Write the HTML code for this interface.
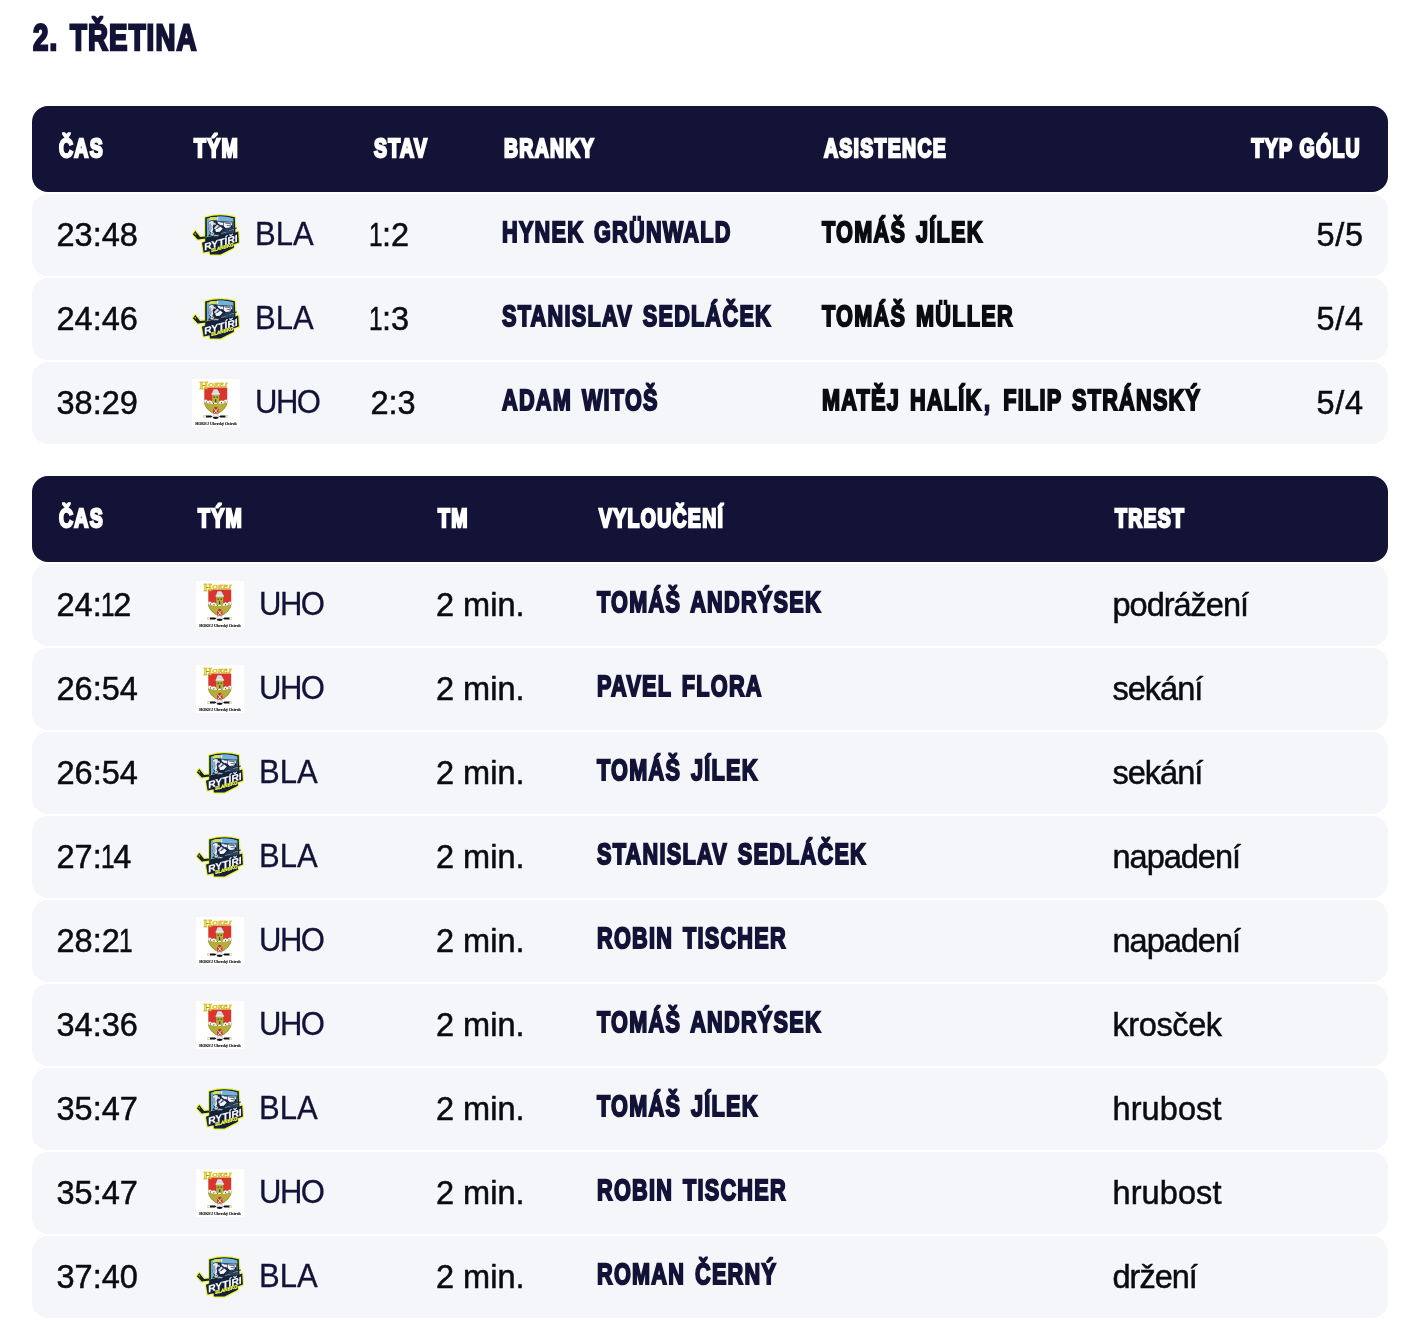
<!DOCTYPE html>
<html lang="cs">
<head>
<meta charset="utf-8">
<title>2. třetina</title>
<style>
html,body{margin:0;padding:0;background:#fff;}
body{width:1418px;height:1334px;overflow:hidden;position:relative;font-family:"Liberation Sans",Arial,sans-serif;color:#0b0b12;}
.wrap{position:absolute;left:32px;top:0;width:1356px;}
.cd{text-rendering:geometricPrecision;display:inline-block;white-space:nowrap;font-weight:700;transform-origin:0 50%;transform:scaleX(.74);-webkit-text-stroke:1.8px currentColor;letter-spacing:1.4px;}
.title{position:absolute;left:0;top:0;margin:0;height:76px;font-size:36.8px;line-height:75.5px;color:#131338;font-weight:700;}
.title .cd{position:absolute;left:1px;top:0;transform:scaleX(.75);-webkit-text-stroke-width:2.5px;letter-spacing:1.5px;word-spacing:4px;}
.tbl{position:absolute;left:0;width:1356px;}
.goals{top:106px;}
.pens{top:476px;}
.thead{position:relative;height:86px;border-radius:16px;background:#131338;color:#fff;margin-bottom:2px;}
.th{position:absolute;top:-.8px;padding-left:2.2px;height:86px;line-height:86px;font-size:26.3px;}
.th .cd{-webkit-text-stroke-width:2.4px;letter-spacing:1.75px;}
.tr{position:relative;height:82px;border-radius:16px;background:#f5f6fa;margin-bottom:2px;}
.td{position:absolute;top:0;height:82px;line-height:82.5px;font-size:32.5px;white-space:nowrap;-webkit-text-stroke:.5px currentColor;}
.n1{display:inline-block;width:12.7px;margin-left:-1.2px;transform:scaleX(.75);transform-origin:0 50%;}
.logo{position:absolute;left:0;top:17px;display:block;}
.abbr{position:absolute;left:63px;top:-1px;color:#131338;font-size:33px;-webkit-text-stroke-width:.3px;display:inline-block;transform-origin:0 50%;transform:scaleX(.94);}
.nm{font-size:29.5px;color:#131338;-webkit-text-stroke-width:2px;letter-spacing:1.7px;word-spacing:3.5px;position:relative;top:-3.9px;left:0;transform:scaleX(.735);}
.as{color:#0b0b12;}
.sep{font-style:normal;color:#131338;margin:0 3px 0 2px;}
.c-time{left:24.5px;}
.goals .c-team{left:160px;}
.goals .c-state{left:339.5px;}
.goals .td.c-state{left:338.5px;}
.goals .c-name{left:470px;}
.goals .c-assist{left:790px;}
.goals .c-type{right:27px;text-align:right;}
.goals .td.c-type{right:24.3px;letter-spacing:.7px;}
.goals .th.c-type .cd{transform-origin:100% 50%;}
.pens .c-team{left:164px;}
.pens .c-tm{left:404px;}
.pens .c-name{left:565px;}
.pens .c-pen{left:1080.5px;}
.abbr.uho{letter-spacing:-1.6px;}
.c-pen{letter-spacing:-1px;}
.c-pen.w{letter-spacing:-.4px;}
.c-pen.w2{letter-spacing:.1px;}
</style>
</head>
<body>
<main class="wrap">
<h2 class="title"><span class="cd">2. TŘETINA</span></h2>
<section class="tbl goals">
 <div class="thead">
  <div class="th c-time"><span class="cd">ČAS</span></div>
  <div class="th c-team"><span class="cd">TÝM</span></div>
  <div class="th c-state"><span class="cd">STAV</span></div>
  <div class="th c-name"><span class="cd">BRANKY</span></div>
  <div class="th c-assist"><span class="cd">ASISTENCE</span></div>
  <div class="th c-type"><span class="cd">TYP GÓLU</span></div>
 </div>
 <div class="tr">
  <div class="td c-time">23:48</div>
  <div class="td c-team"><svg class="logo" width="48" height="48" viewBox="0 0 48 48" role="img" aria-label="Rytíři Slansko">
    <!-- yellow glow outline -->
    <g fill="#f0f23c" stroke="#f0f23c" stroke-width="2.4" stroke-linejoin="round" stroke-linecap="round">
     <path d="M13.2 6.4 Q28 2.2 42.8 6.2 L43.4 21.4 L46.2 20.6 L46.9 31.6 L42 33.2 L41.8 36.8 L28.5 43.6 L18 43.4 L17.6 40.2 L11.6 41.6 L10 31.8 L13.2 30.4 Z"/>
     <path d="M0.9 23.3 L3.3 20 L8.1 25.9 L13.6 25.4 L13.6 27.6 L5.8 28.6 Z"/>
    </g>
    <!-- shield body -->
    <path d="M13.2 6.4 Q28 2.2 42.8 6.2 L43.4 21.4 L46.2 20.6 L46.9 31.6 L42 33.2 L41.8 36.8 L28.5 43.6 L18 43.4 L17.6 40.2 L11.6 41.6 L10 31.8 L13.2 30.4 Z" fill="#13213d"/>
    <!-- sky -->
    <path d="M14.8 7.6 Q28 3.4 41.2 7.4 L41.6 22 L30 25 L15 26 Z" fill="#6aaedb"/>
    <path d="M25.6 5.8 Q34 4.8 41.2 7.4 L41.4 10.4 L25 10 Z" fill="#72b3dc"/>
    <path d="M24.6 6.2 L26.4 5.6 L25.8 9.6 L24.8 9.8Z" fill="#d7ecf5"/>
    <!-- plume -->
    <ellipse cx="20.8" cy="7.9" rx="4.2" ry="1.8" transform="rotate(-8 20.8 7.9)" fill="#d3df52"/>
    <!-- knight: dark silhouette -->
    <path d="M16.5 11.4 L18 9.8 L21 9.2 L24.6 9.6 L27.4 10.2 L40.3 10 L41 17 L41.4 22.2 L30 25.4 L16 26.6 L16.2 25 L18.2 22.6 L16.6 18 Z" fill="#15233f"/>
    <!-- helmet -->
    <path d="M16.7 11.6 L19 10 L21.6 10.3 L22 13 L20.6 15.6 L21.2 19 L19.7 22.2 L17.4 19.8 L16.6 16 Z" fill="#e6eaf0"/>
    <path d="M17 13 L19 12 L19.6 17.4 L18.6 20.4 L17.5 19.2 L16.9 16Z" fill="#98a4ba"/>
    <path d="M22 12.3 L23.2 11.6 L23.9 13.4 L22.7 14.2Z" fill="#eef2f6"/>
    <!-- upper plates -->
    <path d="M27.9 10.9 L39.5 10.6 L40 13.2 L38 16.6 L33.8 16.9 L31 14.7 L27.7 12.1Z" fill="#f3f5f8"/>
    <path d="M28 11.3 H39.6 V11.75 H28Z M31.1 10.7 H31.75 V16.4 H31.1Z M33.2 12.4 L38.8 12 L38.9 12.7 L33.4 13.1Z M34.6 14.4 L38.6 13.8 L38.4 14.6 L34.8 15.1Z" fill="#1b2945"/>
    <path d="M38.2 10.8 L39.6 10.8 L38.4 16.4 L37.2 16.4Z" fill="#8f9bb2"/>
    <path d="M25.2 10.6 L27.4 10.8 L30.2 13.6 L29 14.6 L26 12.4Z" fill="#e9edf2"/>
    <!-- diagonal arm -->
    <path d="M25.3 13.4 L27 15 L23 18.7 L22 17.1Z" fill="#d8dfe8"/>
    <path d="M23.2 19.1 L27.7 15.1 L30.7 17.4 L27.8 20.8 L24 21.1Z" fill="#f6f8fa"/>
    <path d="M18.7 21.8 L21 20.8 L22.4 23 L20.2 24.8 L18.4 24Z" fill="#cdd5e0"/>
    <path d="M19.4 22.4 L21.4 21.6 L21.7 22.1 L19.7 23Z M25 17.6 L28.6 14.6 L29 15 L25.4 18.1Z" fill="#1b2945"/>
    <!-- bluish shadow, right -->
    <path d="M33.4 17.6 L41 16.8 L41.4 22 L33 23Z" fill="#274569"/>
    <path d="M30.5 18.6 L33.6 17.4 L33 23 L28 23.6Z" fill="#1e3354"/>
    <!-- small highlights below -->
    <path d="M21.6 24.6 L26.6 23.8 L26.8 24.6 L21.8 25.4Z M22.6 26.2 L26 25.6 L26.2 26.3 L22.8 26.9Z" fill="#c9d6e4"/>
    <!-- stick -->
    <path d="M0.9 23.3 L3.3 20 L8.1 25.9 L13.6 25.4 L13.6 27.6 L5.8 28.6 Z" fill="#13213d"/>
    <path d="M2.3 22.4 L3 21.6 L4.4 23.2 L3.7 24Z" fill="#f0f23c" opacity=".7"/>
    <path d="M13.4 25.9 L24 23.4 L24.2 24 L13.6 26.6Z M29 22.2 L34 21 L34.2 21.6 L29.2 22.8Z" fill="#b9c441"/>
    <path d="M36 18.4 L44.6 16.4 L44.9 17.4 L36.3 19.4Z" fill="#1b2945"/>
    <path d="M37 19.2 L42 18 L42.1 18.5 L37.2 19.7Z" fill="#b9c441"/>
    <!-- dark mass under the knight -->
    <path d="M14.8 26.6 L24 25.8 L30 25 L42.8 21.6 L43 25 L15 33 Z" fill="#13213d"/>
    <!-- wordmark -->
    <g transform="skewY(-15.3)" font-family="'Liberation Sans',Arial,sans-serif" font-weight="700">
     <text x="12.3" y="42.9" font-size="10" fill="#fff" stroke="#fff" stroke-width=".15" textLength="33.4" lengthAdjust="spacingAndGlyphs">RYTÍŘI</text>
     <text x="19.2" y="46.3" font-size="4.6" fill="#ecef3e" stroke="#ecef3e" stroke-width=".4" textLength="22.4" lengthAdjust="spacingAndGlyphs">SLANSKO</text>
    </g>
   </svg><span class="abbr bla">BLA</span></div>
  <div class="td c-state"><span class="n1">1</span>:2</div>
  <div class="td c-name"><span class="cd nm">HYNEK GRÜNWALD</span></div>
  <div class="td c-assist"><span class="cd nm as">TOMÁŠ JÍLEK</span></div>
  <div class="td c-type">5/5</div>
 </div>
 <div class="tr">
  <div class="td c-time">24:46</div>
  <div class="td c-team"><svg class="logo" width="48" height="48" viewBox="0 0 48 48" role="img" aria-label="Rytíři Slansko">
    <!-- yellow glow outline -->
    <g fill="#f0f23c" stroke="#f0f23c" stroke-width="2.4" stroke-linejoin="round" stroke-linecap="round">
     <path d="M13.2 6.4 Q28 2.2 42.8 6.2 L43.4 21.4 L46.2 20.6 L46.9 31.6 L42 33.2 L41.8 36.8 L28.5 43.6 L18 43.4 L17.6 40.2 L11.6 41.6 L10 31.8 L13.2 30.4 Z"/>
     <path d="M0.9 23.3 L3.3 20 L8.1 25.9 L13.6 25.4 L13.6 27.6 L5.8 28.6 Z"/>
    </g>
    <!-- shield body -->
    <path d="M13.2 6.4 Q28 2.2 42.8 6.2 L43.4 21.4 L46.2 20.6 L46.9 31.6 L42 33.2 L41.8 36.8 L28.5 43.6 L18 43.4 L17.6 40.2 L11.6 41.6 L10 31.8 L13.2 30.4 Z" fill="#13213d"/>
    <!-- sky -->
    <path d="M14.8 7.6 Q28 3.4 41.2 7.4 L41.6 22 L30 25 L15 26 Z" fill="#6aaedb"/>
    <path d="M25.6 5.8 Q34 4.8 41.2 7.4 L41.4 10.4 L25 10 Z" fill="#72b3dc"/>
    <path d="M24.6 6.2 L26.4 5.6 L25.8 9.6 L24.8 9.8Z" fill="#d7ecf5"/>
    <!-- plume -->
    <ellipse cx="20.8" cy="7.9" rx="4.2" ry="1.8" transform="rotate(-8 20.8 7.9)" fill="#d3df52"/>
    <!-- knight: dark silhouette -->
    <path d="M16.5 11.4 L18 9.8 L21 9.2 L24.6 9.6 L27.4 10.2 L40.3 10 L41 17 L41.4 22.2 L30 25.4 L16 26.6 L16.2 25 L18.2 22.6 L16.6 18 Z" fill="#15233f"/>
    <!-- helmet -->
    <path d="M16.7 11.6 L19 10 L21.6 10.3 L22 13 L20.6 15.6 L21.2 19 L19.7 22.2 L17.4 19.8 L16.6 16 Z" fill="#e6eaf0"/>
    <path d="M17 13 L19 12 L19.6 17.4 L18.6 20.4 L17.5 19.2 L16.9 16Z" fill="#98a4ba"/>
    <path d="M22 12.3 L23.2 11.6 L23.9 13.4 L22.7 14.2Z" fill="#eef2f6"/>
    <!-- upper plates -->
    <path d="M27.9 10.9 L39.5 10.6 L40 13.2 L38 16.6 L33.8 16.9 L31 14.7 L27.7 12.1Z" fill="#f3f5f8"/>
    <path d="M28 11.3 H39.6 V11.75 H28Z M31.1 10.7 H31.75 V16.4 H31.1Z M33.2 12.4 L38.8 12 L38.9 12.7 L33.4 13.1Z M34.6 14.4 L38.6 13.8 L38.4 14.6 L34.8 15.1Z" fill="#1b2945"/>
    <path d="M38.2 10.8 L39.6 10.8 L38.4 16.4 L37.2 16.4Z" fill="#8f9bb2"/>
    <path d="M25.2 10.6 L27.4 10.8 L30.2 13.6 L29 14.6 L26 12.4Z" fill="#e9edf2"/>
    <!-- diagonal arm -->
    <path d="M25.3 13.4 L27 15 L23 18.7 L22 17.1Z" fill="#d8dfe8"/>
    <path d="M23.2 19.1 L27.7 15.1 L30.7 17.4 L27.8 20.8 L24 21.1Z" fill="#f6f8fa"/>
    <path d="M18.7 21.8 L21 20.8 L22.4 23 L20.2 24.8 L18.4 24Z" fill="#cdd5e0"/>
    <path d="M19.4 22.4 L21.4 21.6 L21.7 22.1 L19.7 23Z M25 17.6 L28.6 14.6 L29 15 L25.4 18.1Z" fill="#1b2945"/>
    <!-- bluish shadow, right -->
    <path d="M33.4 17.6 L41 16.8 L41.4 22 L33 23Z" fill="#274569"/>
    <path d="M30.5 18.6 L33.6 17.4 L33 23 L28 23.6Z" fill="#1e3354"/>
    <!-- small highlights below -->
    <path d="M21.6 24.6 L26.6 23.8 L26.8 24.6 L21.8 25.4Z M22.6 26.2 L26 25.6 L26.2 26.3 L22.8 26.9Z" fill="#c9d6e4"/>
    <!-- stick -->
    <path d="M0.9 23.3 L3.3 20 L8.1 25.9 L13.6 25.4 L13.6 27.6 L5.8 28.6 Z" fill="#13213d"/>
    <path d="M2.3 22.4 L3 21.6 L4.4 23.2 L3.7 24Z" fill="#f0f23c" opacity=".7"/>
    <path d="M13.4 25.9 L24 23.4 L24.2 24 L13.6 26.6Z M29 22.2 L34 21 L34.2 21.6 L29.2 22.8Z" fill="#b9c441"/>
    <path d="M36 18.4 L44.6 16.4 L44.9 17.4 L36.3 19.4Z" fill="#1b2945"/>
    <path d="M37 19.2 L42 18 L42.1 18.5 L37.2 19.7Z" fill="#b9c441"/>
    <!-- dark mass under the knight -->
    <path d="M14.8 26.6 L24 25.8 L30 25 L42.8 21.6 L43 25 L15 33 Z" fill="#13213d"/>
    <!-- wordmark -->
    <g transform="skewY(-15.3)" font-family="'Liberation Sans',Arial,sans-serif" font-weight="700">
     <text x="12.3" y="42.9" font-size="10" fill="#fff" stroke="#fff" stroke-width=".15" textLength="33.4" lengthAdjust="spacingAndGlyphs">RYTÍŘI</text>
     <text x="19.2" y="46.3" font-size="4.6" fill="#ecef3e" stroke="#ecef3e" stroke-width=".4" textLength="22.4" lengthAdjust="spacingAndGlyphs">SLANSKO</text>
    </g>
   </svg><span class="abbr bla">BLA</span></div>
  <div class="td c-state"><span class="n1">1</span>:3</div>
  <div class="td c-name"><span class="cd nm">STANISLAV SEDLÁČEK</span></div>
  <div class="td c-assist"><span class="cd nm as">TOMÁŠ MÜLLER</span></div>
  <div class="td c-type">5/4</div>
 </div>
 <div class="tr">
  <div class="td c-time">38:29</div>
  <div class="td c-team"><svg class="logo" width="48" height="48" viewBox="0 0 48 48" role="img" aria-label="HOKEJ Uherský Ostroh">
    <rect x="0" y="0" width="48" height="48" fill="#fff"/>
    <!-- shield -->
    <path d="M12.3 8.6 H35.2 V23 Q35 30 23.7 35.8 Q12.4 30 12.3 23 Z" fill="#d8362a"/>
    <path d="M12.3 22.4 H35.2 V23 Q35 30 23.7 35.8 Q12.4 30 12.3 23 Z" fill="#b5ae3a" stroke="#7d7a24" stroke-width=".45"/>
    <!-- wall -->
    <path d="M12.3 21 L14.2 20.4 L16 22 L18 21.2 L20 22.6 H27.4 L29.4 21.2 L31.4 22 L33.2 20.4 L35.2 21 V23.4 Q23.7 26.6 12.3 23.4Z" fill="#f6f5ee"/>
    <path d="M14 22.6h1v1h-1z M17.4 23.2h1v1h-1z M21 23.8h1v1h-1z M25.4 23.8h1v1h-1z M29 23.2h1v1h-1z M32.4 22.6h1v1h-1z" fill="#3a3a2a"/>
    <!-- tower -->
    <path d="M20.2 15.4 H27.2 V24 H20.2Z" fill="#aeb23e"/>
    <path d="M21.6 10.2 H25.8 L27.9 15.6 H19.5Z" fill="#d9dbe0"/>
    <path d="M19.5 15.6 H27.9 V14.6 H19.9Z" fill="#f4f4f4"/>
    <path d="M21.6 17.6h1.2v1.2h-1.2z M24.6 17.6h1.2v1.2h-1.2z M23.2 20.2h1v2.8h-1z" fill="#2a2a1e"/>
    <path d="M26.2 9.6 L26.6 12 L25.6 10.4Z" fill="#2a2a1e"/>
    <!-- door -->
    <path d="M21.2 34 V29.6 Q23.8 25.8 26.4 29.6 V34 L23.8 35.6Z" fill="#c4342a"/>
    <path d="M21.8 29.4 L25.8 34.4 M25.8 29.4 L21.8 34.4" stroke="#f7f2e6" stroke-width=".9" fill="none"/>
    <!-- sticks + puck -->
    <path d="M11.6 36.4 H19 L20.4 37.4 L19 38.6 H11.6Z M35.8 36.4 H28.4 L27 37.4 L28.4 38.6 H35.8Z" fill="#111"/>
    <path d="M11.4 36.2 H14 V38.8 H11.4Z M33.4 36.2 H36 V38.8 H33.4Z" fill="#f3f3c8"/>
    <path d="M20.6 38 Q20.8 34.6 23.7 34.6 Q26.6 34.6 26.8 38Z" fill="#f1f1f1" stroke="#777" stroke-width=".3"/>
    <ellipse cx="23.7" cy="38.8" rx="3" ry="1.1" fill="#111"/>
    <!-- lettering -->
    <text font-family="'Liberation Serif','Times New Roman',serif" font-weight="700" fill="#f5e521"><tspan x="7.6" y="9.6" font-size="9.8" stroke="#b8930f" stroke-width=".35" textLength="8.6" lengthAdjust="spacingAndGlyphs">H</tspan><tspan x="16.2" y="8" font-style="italic" font-size="5.4" stroke="#c9a514" stroke-width=".3" textLength="19.4" lengthAdjust="spacingAndGlyphs">OKEJ</tspan></text>
    <text x="24" y="45.7" text-anchor="middle" font-family="'Liberation Serif','Times New Roman',serif" font-weight="700" font-size="3.3" fill="#1a1a1a" stroke="#1a1a1a" stroke-width=".12" textLength="41.6" lengthAdjust="spacingAndGlyphs">HOKEJ Uherský Ostroh</text>
   </svg><span class="abbr uho">UHO</span></div>
  <div class="td c-state">2:3</div>
  <div class="td c-name"><span class="cd nm">ADAM WITOŠ</span></div>
  <div class="td c-assist"><span class="cd nm as">MATĚJ HALÍK<i class="sep">, </i>FILIP STRÁNSKÝ</span></div>
  <div class="td c-type">5/4</div>
 </div>
</section>
<section class="tbl pens">
 <div class="thead">
  <div class="th c-time"><span class="cd">ČAS</span></div>
  <div class="th c-team"><span class="cd">TÝM</span></div>
  <div class="th c-tm"><span class="cd">TM</span></div>
  <div class="th c-name"><span class="cd">VYLOUČENÍ</span></div>
  <div class="th c-pen"><span class="cd">TREST</span></div>
 </div>
 <div class="tr">
  <div class="td c-time">24:<span class="n1">1</span>2</div>
  <div class="td c-team"><svg class="logo" width="48" height="48" viewBox="0 0 48 48" role="img" aria-label="HOKEJ Uherský Ostroh">
    <rect x="0" y="0" width="48" height="48" fill="#fff"/>
    <!-- shield -->
    <path d="M12.3 8.6 H35.2 V23 Q35 30 23.7 35.8 Q12.4 30 12.3 23 Z" fill="#d8362a"/>
    <path d="M12.3 22.4 H35.2 V23 Q35 30 23.7 35.8 Q12.4 30 12.3 23 Z" fill="#b5ae3a" stroke="#7d7a24" stroke-width=".45"/>
    <!-- wall -->
    <path d="M12.3 21 L14.2 20.4 L16 22 L18 21.2 L20 22.6 H27.4 L29.4 21.2 L31.4 22 L33.2 20.4 L35.2 21 V23.4 Q23.7 26.6 12.3 23.4Z" fill="#f6f5ee"/>
    <path d="M14 22.6h1v1h-1z M17.4 23.2h1v1h-1z M21 23.8h1v1h-1z M25.4 23.8h1v1h-1z M29 23.2h1v1h-1z M32.4 22.6h1v1h-1z" fill="#3a3a2a"/>
    <!-- tower -->
    <path d="M20.2 15.4 H27.2 V24 H20.2Z" fill="#aeb23e"/>
    <path d="M21.6 10.2 H25.8 L27.9 15.6 H19.5Z" fill="#d9dbe0"/>
    <path d="M19.5 15.6 H27.9 V14.6 H19.9Z" fill="#f4f4f4"/>
    <path d="M21.6 17.6h1.2v1.2h-1.2z M24.6 17.6h1.2v1.2h-1.2z M23.2 20.2h1v2.8h-1z" fill="#2a2a1e"/>
    <path d="M26.2 9.6 L26.6 12 L25.6 10.4Z" fill="#2a2a1e"/>
    <!-- door -->
    <path d="M21.2 34 V29.6 Q23.8 25.8 26.4 29.6 V34 L23.8 35.6Z" fill="#c4342a"/>
    <path d="M21.8 29.4 L25.8 34.4 M25.8 29.4 L21.8 34.4" stroke="#f7f2e6" stroke-width=".9" fill="none"/>
    <!-- sticks + puck -->
    <path d="M11.6 36.4 H19 L20.4 37.4 L19 38.6 H11.6Z M35.8 36.4 H28.4 L27 37.4 L28.4 38.6 H35.8Z" fill="#111"/>
    <path d="M11.4 36.2 H14 V38.8 H11.4Z M33.4 36.2 H36 V38.8 H33.4Z" fill="#f3f3c8"/>
    <path d="M20.6 38 Q20.8 34.6 23.7 34.6 Q26.6 34.6 26.8 38Z" fill="#f1f1f1" stroke="#777" stroke-width=".3"/>
    <ellipse cx="23.7" cy="38.8" rx="3" ry="1.1" fill="#111"/>
    <!-- lettering -->
    <text font-family="'Liberation Serif','Times New Roman',serif" font-weight="700" fill="#f5e521"><tspan x="7.6" y="9.6" font-size="9.8" stroke="#b8930f" stroke-width=".35" textLength="8.6" lengthAdjust="spacingAndGlyphs">H</tspan><tspan x="16.2" y="8" font-style="italic" font-size="5.4" stroke="#c9a514" stroke-width=".3" textLength="19.4" lengthAdjust="spacingAndGlyphs">OKEJ</tspan></text>
    <text x="24" y="45.7" text-anchor="middle" font-family="'Liberation Serif','Times New Roman',serif" font-weight="700" font-size="3.3" fill="#1a1a1a" stroke="#1a1a1a" stroke-width=".12" textLength="41.6" lengthAdjust="spacingAndGlyphs">HOKEJ Uherský Ostroh</text>
   </svg><span class="abbr uho">UHO</span></div>
  <div class="td c-tm">2 min.</div>
  <div class="td c-name"><span class="cd nm">TOMÁŠ ANDRÝSEK</span></div>
  <div class="td c-pen">podrážení</div>
 </div>
 <div class="tr">
  <div class="td c-time">26:54</div>
  <div class="td c-team"><svg class="logo" width="48" height="48" viewBox="0 0 48 48" role="img" aria-label="HOKEJ Uherský Ostroh">
    <rect x="0" y="0" width="48" height="48" fill="#fff"/>
    <!-- shield -->
    <path d="M12.3 8.6 H35.2 V23 Q35 30 23.7 35.8 Q12.4 30 12.3 23 Z" fill="#d8362a"/>
    <path d="M12.3 22.4 H35.2 V23 Q35 30 23.7 35.8 Q12.4 30 12.3 23 Z" fill="#b5ae3a" stroke="#7d7a24" stroke-width=".45"/>
    <!-- wall -->
    <path d="M12.3 21 L14.2 20.4 L16 22 L18 21.2 L20 22.6 H27.4 L29.4 21.2 L31.4 22 L33.2 20.4 L35.2 21 V23.4 Q23.7 26.6 12.3 23.4Z" fill="#f6f5ee"/>
    <path d="M14 22.6h1v1h-1z M17.4 23.2h1v1h-1z M21 23.8h1v1h-1z M25.4 23.8h1v1h-1z M29 23.2h1v1h-1z M32.4 22.6h1v1h-1z" fill="#3a3a2a"/>
    <!-- tower -->
    <path d="M20.2 15.4 H27.2 V24 H20.2Z" fill="#aeb23e"/>
    <path d="M21.6 10.2 H25.8 L27.9 15.6 H19.5Z" fill="#d9dbe0"/>
    <path d="M19.5 15.6 H27.9 V14.6 H19.9Z" fill="#f4f4f4"/>
    <path d="M21.6 17.6h1.2v1.2h-1.2z M24.6 17.6h1.2v1.2h-1.2z M23.2 20.2h1v2.8h-1z" fill="#2a2a1e"/>
    <path d="M26.2 9.6 L26.6 12 L25.6 10.4Z" fill="#2a2a1e"/>
    <!-- door -->
    <path d="M21.2 34 V29.6 Q23.8 25.8 26.4 29.6 V34 L23.8 35.6Z" fill="#c4342a"/>
    <path d="M21.8 29.4 L25.8 34.4 M25.8 29.4 L21.8 34.4" stroke="#f7f2e6" stroke-width=".9" fill="none"/>
    <!-- sticks + puck -->
    <path d="M11.6 36.4 H19 L20.4 37.4 L19 38.6 H11.6Z M35.8 36.4 H28.4 L27 37.4 L28.4 38.6 H35.8Z" fill="#111"/>
    <path d="M11.4 36.2 H14 V38.8 H11.4Z M33.4 36.2 H36 V38.8 H33.4Z" fill="#f3f3c8"/>
    <path d="M20.6 38 Q20.8 34.6 23.7 34.6 Q26.6 34.6 26.8 38Z" fill="#f1f1f1" stroke="#777" stroke-width=".3"/>
    <ellipse cx="23.7" cy="38.8" rx="3" ry="1.1" fill="#111"/>
    <!-- lettering -->
    <text font-family="'Liberation Serif','Times New Roman',serif" font-weight="700" fill="#f5e521"><tspan x="7.6" y="9.6" font-size="9.8" stroke="#b8930f" stroke-width=".35" textLength="8.6" lengthAdjust="spacingAndGlyphs">H</tspan><tspan x="16.2" y="8" font-style="italic" font-size="5.4" stroke="#c9a514" stroke-width=".3" textLength="19.4" lengthAdjust="spacingAndGlyphs">OKEJ</tspan></text>
    <text x="24" y="45.7" text-anchor="middle" font-family="'Liberation Serif','Times New Roman',serif" font-weight="700" font-size="3.3" fill="#1a1a1a" stroke="#1a1a1a" stroke-width=".12" textLength="41.6" lengthAdjust="spacingAndGlyphs">HOKEJ Uherský Ostroh</text>
   </svg><span class="abbr uho">UHO</span></div>
  <div class="td c-tm">2 min.</div>
  <div class="td c-name"><span class="cd nm">PAVEL FLORA</span></div>
  <div class="td c-pen">sekání</div>
 </div>
 <div class="tr">
  <div class="td c-time">26:54</div>
  <div class="td c-team"><svg class="logo" width="48" height="48" viewBox="0 0 48 48" role="img" aria-label="Rytíři Slansko">
    <!-- yellow glow outline -->
    <g fill="#f0f23c" stroke="#f0f23c" stroke-width="2.4" stroke-linejoin="round" stroke-linecap="round">
     <path d="M13.2 6.4 Q28 2.2 42.8 6.2 L43.4 21.4 L46.2 20.6 L46.9 31.6 L42 33.2 L41.8 36.8 L28.5 43.6 L18 43.4 L17.6 40.2 L11.6 41.6 L10 31.8 L13.2 30.4 Z"/>
     <path d="M0.9 23.3 L3.3 20 L8.1 25.9 L13.6 25.4 L13.6 27.6 L5.8 28.6 Z"/>
    </g>
    <!-- shield body -->
    <path d="M13.2 6.4 Q28 2.2 42.8 6.2 L43.4 21.4 L46.2 20.6 L46.9 31.6 L42 33.2 L41.8 36.8 L28.5 43.6 L18 43.4 L17.6 40.2 L11.6 41.6 L10 31.8 L13.2 30.4 Z" fill="#13213d"/>
    <!-- sky -->
    <path d="M14.8 7.6 Q28 3.4 41.2 7.4 L41.6 22 L30 25 L15 26 Z" fill="#6aaedb"/>
    <path d="M25.6 5.8 Q34 4.8 41.2 7.4 L41.4 10.4 L25 10 Z" fill="#72b3dc"/>
    <path d="M24.6 6.2 L26.4 5.6 L25.8 9.6 L24.8 9.8Z" fill="#d7ecf5"/>
    <!-- plume -->
    <ellipse cx="20.8" cy="7.9" rx="4.2" ry="1.8" transform="rotate(-8 20.8 7.9)" fill="#d3df52"/>
    <!-- knight: dark silhouette -->
    <path d="M16.5 11.4 L18 9.8 L21 9.2 L24.6 9.6 L27.4 10.2 L40.3 10 L41 17 L41.4 22.2 L30 25.4 L16 26.6 L16.2 25 L18.2 22.6 L16.6 18 Z" fill="#15233f"/>
    <!-- helmet -->
    <path d="M16.7 11.6 L19 10 L21.6 10.3 L22 13 L20.6 15.6 L21.2 19 L19.7 22.2 L17.4 19.8 L16.6 16 Z" fill="#e6eaf0"/>
    <path d="M17 13 L19 12 L19.6 17.4 L18.6 20.4 L17.5 19.2 L16.9 16Z" fill="#98a4ba"/>
    <path d="M22 12.3 L23.2 11.6 L23.9 13.4 L22.7 14.2Z" fill="#eef2f6"/>
    <!-- upper plates -->
    <path d="M27.9 10.9 L39.5 10.6 L40 13.2 L38 16.6 L33.8 16.9 L31 14.7 L27.7 12.1Z" fill="#f3f5f8"/>
    <path d="M28 11.3 H39.6 V11.75 H28Z M31.1 10.7 H31.75 V16.4 H31.1Z M33.2 12.4 L38.8 12 L38.9 12.7 L33.4 13.1Z M34.6 14.4 L38.6 13.8 L38.4 14.6 L34.8 15.1Z" fill="#1b2945"/>
    <path d="M38.2 10.8 L39.6 10.8 L38.4 16.4 L37.2 16.4Z" fill="#8f9bb2"/>
    <path d="M25.2 10.6 L27.4 10.8 L30.2 13.6 L29 14.6 L26 12.4Z" fill="#e9edf2"/>
    <!-- diagonal arm -->
    <path d="M25.3 13.4 L27 15 L23 18.7 L22 17.1Z" fill="#d8dfe8"/>
    <path d="M23.2 19.1 L27.7 15.1 L30.7 17.4 L27.8 20.8 L24 21.1Z" fill="#f6f8fa"/>
    <path d="M18.7 21.8 L21 20.8 L22.4 23 L20.2 24.8 L18.4 24Z" fill="#cdd5e0"/>
    <path d="M19.4 22.4 L21.4 21.6 L21.7 22.1 L19.7 23Z M25 17.6 L28.6 14.6 L29 15 L25.4 18.1Z" fill="#1b2945"/>
    <!-- bluish shadow, right -->
    <path d="M33.4 17.6 L41 16.8 L41.4 22 L33 23Z" fill="#274569"/>
    <path d="M30.5 18.6 L33.6 17.4 L33 23 L28 23.6Z" fill="#1e3354"/>
    <!-- small highlights below -->
    <path d="M21.6 24.6 L26.6 23.8 L26.8 24.6 L21.8 25.4Z M22.6 26.2 L26 25.6 L26.2 26.3 L22.8 26.9Z" fill="#c9d6e4"/>
    <!-- stick -->
    <path d="M0.9 23.3 L3.3 20 L8.1 25.9 L13.6 25.4 L13.6 27.6 L5.8 28.6 Z" fill="#13213d"/>
    <path d="M2.3 22.4 L3 21.6 L4.4 23.2 L3.7 24Z" fill="#f0f23c" opacity=".7"/>
    <path d="M13.4 25.9 L24 23.4 L24.2 24 L13.6 26.6Z M29 22.2 L34 21 L34.2 21.6 L29.2 22.8Z" fill="#b9c441"/>
    <path d="M36 18.4 L44.6 16.4 L44.9 17.4 L36.3 19.4Z" fill="#1b2945"/>
    <path d="M37 19.2 L42 18 L42.1 18.5 L37.2 19.7Z" fill="#b9c441"/>
    <!-- dark mass under the knight -->
    <path d="M14.8 26.6 L24 25.8 L30 25 L42.8 21.6 L43 25 L15 33 Z" fill="#13213d"/>
    <!-- wordmark -->
    <g transform="skewY(-15.3)" font-family="'Liberation Sans',Arial,sans-serif" font-weight="700">
     <text x="12.3" y="42.9" font-size="10" fill="#fff" stroke="#fff" stroke-width=".15" textLength="33.4" lengthAdjust="spacingAndGlyphs">RYTÍŘI</text>
     <text x="19.2" y="46.3" font-size="4.6" fill="#ecef3e" stroke="#ecef3e" stroke-width=".4" textLength="22.4" lengthAdjust="spacingAndGlyphs">SLANSKO</text>
    </g>
   </svg><span class="abbr bla">BLA</span></div>
  <div class="td c-tm">2 min.</div>
  <div class="td c-name"><span class="cd nm">TOMÁŠ JÍLEK</span></div>
  <div class="td c-pen">sekání</div>
 </div>
 <div class="tr">
  <div class="td c-time">27:<span class="n1">1</span>4</div>
  <div class="td c-team"><svg class="logo" width="48" height="48" viewBox="0 0 48 48" role="img" aria-label="Rytíři Slansko">
    <!-- yellow glow outline -->
    <g fill="#f0f23c" stroke="#f0f23c" stroke-width="2.4" stroke-linejoin="round" stroke-linecap="round">
     <path d="M13.2 6.4 Q28 2.2 42.8 6.2 L43.4 21.4 L46.2 20.6 L46.9 31.6 L42 33.2 L41.8 36.8 L28.5 43.6 L18 43.4 L17.6 40.2 L11.6 41.6 L10 31.8 L13.2 30.4 Z"/>
     <path d="M0.9 23.3 L3.3 20 L8.1 25.9 L13.6 25.4 L13.6 27.6 L5.8 28.6 Z"/>
    </g>
    <!-- shield body -->
    <path d="M13.2 6.4 Q28 2.2 42.8 6.2 L43.4 21.4 L46.2 20.6 L46.9 31.6 L42 33.2 L41.8 36.8 L28.5 43.6 L18 43.4 L17.6 40.2 L11.6 41.6 L10 31.8 L13.2 30.4 Z" fill="#13213d"/>
    <!-- sky -->
    <path d="M14.8 7.6 Q28 3.4 41.2 7.4 L41.6 22 L30 25 L15 26 Z" fill="#6aaedb"/>
    <path d="M25.6 5.8 Q34 4.8 41.2 7.4 L41.4 10.4 L25 10 Z" fill="#72b3dc"/>
    <path d="M24.6 6.2 L26.4 5.6 L25.8 9.6 L24.8 9.8Z" fill="#d7ecf5"/>
    <!-- plume -->
    <ellipse cx="20.8" cy="7.9" rx="4.2" ry="1.8" transform="rotate(-8 20.8 7.9)" fill="#d3df52"/>
    <!-- knight: dark silhouette -->
    <path d="M16.5 11.4 L18 9.8 L21 9.2 L24.6 9.6 L27.4 10.2 L40.3 10 L41 17 L41.4 22.2 L30 25.4 L16 26.6 L16.2 25 L18.2 22.6 L16.6 18 Z" fill="#15233f"/>
    <!-- helmet -->
    <path d="M16.7 11.6 L19 10 L21.6 10.3 L22 13 L20.6 15.6 L21.2 19 L19.7 22.2 L17.4 19.8 L16.6 16 Z" fill="#e6eaf0"/>
    <path d="M17 13 L19 12 L19.6 17.4 L18.6 20.4 L17.5 19.2 L16.9 16Z" fill="#98a4ba"/>
    <path d="M22 12.3 L23.2 11.6 L23.9 13.4 L22.7 14.2Z" fill="#eef2f6"/>
    <!-- upper plates -->
    <path d="M27.9 10.9 L39.5 10.6 L40 13.2 L38 16.6 L33.8 16.9 L31 14.7 L27.7 12.1Z" fill="#f3f5f8"/>
    <path d="M28 11.3 H39.6 V11.75 H28Z M31.1 10.7 H31.75 V16.4 H31.1Z M33.2 12.4 L38.8 12 L38.9 12.7 L33.4 13.1Z M34.6 14.4 L38.6 13.8 L38.4 14.6 L34.8 15.1Z" fill="#1b2945"/>
    <path d="M38.2 10.8 L39.6 10.8 L38.4 16.4 L37.2 16.4Z" fill="#8f9bb2"/>
    <path d="M25.2 10.6 L27.4 10.8 L30.2 13.6 L29 14.6 L26 12.4Z" fill="#e9edf2"/>
    <!-- diagonal arm -->
    <path d="M25.3 13.4 L27 15 L23 18.7 L22 17.1Z" fill="#d8dfe8"/>
    <path d="M23.2 19.1 L27.7 15.1 L30.7 17.4 L27.8 20.8 L24 21.1Z" fill="#f6f8fa"/>
    <path d="M18.7 21.8 L21 20.8 L22.4 23 L20.2 24.8 L18.4 24Z" fill="#cdd5e0"/>
    <path d="M19.4 22.4 L21.4 21.6 L21.7 22.1 L19.7 23Z M25 17.6 L28.6 14.6 L29 15 L25.4 18.1Z" fill="#1b2945"/>
    <!-- bluish shadow, right -->
    <path d="M33.4 17.6 L41 16.8 L41.4 22 L33 23Z" fill="#274569"/>
    <path d="M30.5 18.6 L33.6 17.4 L33 23 L28 23.6Z" fill="#1e3354"/>
    <!-- small highlights below -->
    <path d="M21.6 24.6 L26.6 23.8 L26.8 24.6 L21.8 25.4Z M22.6 26.2 L26 25.6 L26.2 26.3 L22.8 26.9Z" fill="#c9d6e4"/>
    <!-- stick -->
    <path d="M0.9 23.3 L3.3 20 L8.1 25.9 L13.6 25.4 L13.6 27.6 L5.8 28.6 Z" fill="#13213d"/>
    <path d="M2.3 22.4 L3 21.6 L4.4 23.2 L3.7 24Z" fill="#f0f23c" opacity=".7"/>
    <path d="M13.4 25.9 L24 23.4 L24.2 24 L13.6 26.6Z M29 22.2 L34 21 L34.2 21.6 L29.2 22.8Z" fill="#b9c441"/>
    <path d="M36 18.4 L44.6 16.4 L44.9 17.4 L36.3 19.4Z" fill="#1b2945"/>
    <path d="M37 19.2 L42 18 L42.1 18.5 L37.2 19.7Z" fill="#b9c441"/>
    <!-- dark mass under the knight -->
    <path d="M14.8 26.6 L24 25.8 L30 25 L42.8 21.6 L43 25 L15 33 Z" fill="#13213d"/>
    <!-- wordmark -->
    <g transform="skewY(-15.3)" font-family="'Liberation Sans',Arial,sans-serif" font-weight="700">
     <text x="12.3" y="42.9" font-size="10" fill="#fff" stroke="#fff" stroke-width=".15" textLength="33.4" lengthAdjust="spacingAndGlyphs">RYTÍŘI</text>
     <text x="19.2" y="46.3" font-size="4.6" fill="#ecef3e" stroke="#ecef3e" stroke-width=".4" textLength="22.4" lengthAdjust="spacingAndGlyphs">SLANSKO</text>
    </g>
   </svg><span class="abbr bla">BLA</span></div>
  <div class="td c-tm">2 min.</div>
  <div class="td c-name"><span class="cd nm">STANISLAV SEDLÁČEK</span></div>
  <div class="td c-pen">napadení</div>
 </div>
 <div class="tr">
  <div class="td c-time">28:2<span class="n1">1</span></div>
  <div class="td c-team"><svg class="logo" width="48" height="48" viewBox="0 0 48 48" role="img" aria-label="HOKEJ Uherský Ostroh">
    <rect x="0" y="0" width="48" height="48" fill="#fff"/>
    <!-- shield -->
    <path d="M12.3 8.6 H35.2 V23 Q35 30 23.7 35.8 Q12.4 30 12.3 23 Z" fill="#d8362a"/>
    <path d="M12.3 22.4 H35.2 V23 Q35 30 23.7 35.8 Q12.4 30 12.3 23 Z" fill="#b5ae3a" stroke="#7d7a24" stroke-width=".45"/>
    <!-- wall -->
    <path d="M12.3 21 L14.2 20.4 L16 22 L18 21.2 L20 22.6 H27.4 L29.4 21.2 L31.4 22 L33.2 20.4 L35.2 21 V23.4 Q23.7 26.6 12.3 23.4Z" fill="#f6f5ee"/>
    <path d="M14 22.6h1v1h-1z M17.4 23.2h1v1h-1z M21 23.8h1v1h-1z M25.4 23.8h1v1h-1z M29 23.2h1v1h-1z M32.4 22.6h1v1h-1z" fill="#3a3a2a"/>
    <!-- tower -->
    <path d="M20.2 15.4 H27.2 V24 H20.2Z" fill="#aeb23e"/>
    <path d="M21.6 10.2 H25.8 L27.9 15.6 H19.5Z" fill="#d9dbe0"/>
    <path d="M19.5 15.6 H27.9 V14.6 H19.9Z" fill="#f4f4f4"/>
    <path d="M21.6 17.6h1.2v1.2h-1.2z M24.6 17.6h1.2v1.2h-1.2z M23.2 20.2h1v2.8h-1z" fill="#2a2a1e"/>
    <path d="M26.2 9.6 L26.6 12 L25.6 10.4Z" fill="#2a2a1e"/>
    <!-- door -->
    <path d="M21.2 34 V29.6 Q23.8 25.8 26.4 29.6 V34 L23.8 35.6Z" fill="#c4342a"/>
    <path d="M21.8 29.4 L25.8 34.4 M25.8 29.4 L21.8 34.4" stroke="#f7f2e6" stroke-width=".9" fill="none"/>
    <!-- sticks + puck -->
    <path d="M11.6 36.4 H19 L20.4 37.4 L19 38.6 H11.6Z M35.8 36.4 H28.4 L27 37.4 L28.4 38.6 H35.8Z" fill="#111"/>
    <path d="M11.4 36.2 H14 V38.8 H11.4Z M33.4 36.2 H36 V38.8 H33.4Z" fill="#f3f3c8"/>
    <path d="M20.6 38 Q20.8 34.6 23.7 34.6 Q26.6 34.6 26.8 38Z" fill="#f1f1f1" stroke="#777" stroke-width=".3"/>
    <ellipse cx="23.7" cy="38.8" rx="3" ry="1.1" fill="#111"/>
    <!-- lettering -->
    <text font-family="'Liberation Serif','Times New Roman',serif" font-weight="700" fill="#f5e521"><tspan x="7.6" y="9.6" font-size="9.8" stroke="#b8930f" stroke-width=".35" textLength="8.6" lengthAdjust="spacingAndGlyphs">H</tspan><tspan x="16.2" y="8" font-style="italic" font-size="5.4" stroke="#c9a514" stroke-width=".3" textLength="19.4" lengthAdjust="spacingAndGlyphs">OKEJ</tspan></text>
    <text x="24" y="45.7" text-anchor="middle" font-family="'Liberation Serif','Times New Roman',serif" font-weight="700" font-size="3.3" fill="#1a1a1a" stroke="#1a1a1a" stroke-width=".12" textLength="41.6" lengthAdjust="spacingAndGlyphs">HOKEJ Uherský Ostroh</text>
   </svg><span class="abbr uho">UHO</span></div>
  <div class="td c-tm">2 min.</div>
  <div class="td c-name"><span class="cd nm">ROBIN TISCHER</span></div>
  <div class="td c-pen">napadení</div>
 </div>
 <div class="tr">
  <div class="td c-time">34:36</div>
  <div class="td c-team"><svg class="logo" width="48" height="48" viewBox="0 0 48 48" role="img" aria-label="HOKEJ Uherský Ostroh">
    <rect x="0" y="0" width="48" height="48" fill="#fff"/>
    <!-- shield -->
    <path d="M12.3 8.6 H35.2 V23 Q35 30 23.7 35.8 Q12.4 30 12.3 23 Z" fill="#d8362a"/>
    <path d="M12.3 22.4 H35.2 V23 Q35 30 23.7 35.8 Q12.4 30 12.3 23 Z" fill="#b5ae3a" stroke="#7d7a24" stroke-width=".45"/>
    <!-- wall -->
    <path d="M12.3 21 L14.2 20.4 L16 22 L18 21.2 L20 22.6 H27.4 L29.4 21.2 L31.4 22 L33.2 20.4 L35.2 21 V23.4 Q23.7 26.6 12.3 23.4Z" fill="#f6f5ee"/>
    <path d="M14 22.6h1v1h-1z M17.4 23.2h1v1h-1z M21 23.8h1v1h-1z M25.4 23.8h1v1h-1z M29 23.2h1v1h-1z M32.4 22.6h1v1h-1z" fill="#3a3a2a"/>
    <!-- tower -->
    <path d="M20.2 15.4 H27.2 V24 H20.2Z" fill="#aeb23e"/>
    <path d="M21.6 10.2 H25.8 L27.9 15.6 H19.5Z" fill="#d9dbe0"/>
    <path d="M19.5 15.6 H27.9 V14.6 H19.9Z" fill="#f4f4f4"/>
    <path d="M21.6 17.6h1.2v1.2h-1.2z M24.6 17.6h1.2v1.2h-1.2z M23.2 20.2h1v2.8h-1z" fill="#2a2a1e"/>
    <path d="M26.2 9.6 L26.6 12 L25.6 10.4Z" fill="#2a2a1e"/>
    <!-- door -->
    <path d="M21.2 34 V29.6 Q23.8 25.8 26.4 29.6 V34 L23.8 35.6Z" fill="#c4342a"/>
    <path d="M21.8 29.4 L25.8 34.4 M25.8 29.4 L21.8 34.4" stroke="#f7f2e6" stroke-width=".9" fill="none"/>
    <!-- sticks + puck -->
    <path d="M11.6 36.4 H19 L20.4 37.4 L19 38.6 H11.6Z M35.8 36.4 H28.4 L27 37.4 L28.4 38.6 H35.8Z" fill="#111"/>
    <path d="M11.4 36.2 H14 V38.8 H11.4Z M33.4 36.2 H36 V38.8 H33.4Z" fill="#f3f3c8"/>
    <path d="M20.6 38 Q20.8 34.6 23.7 34.6 Q26.6 34.6 26.8 38Z" fill="#f1f1f1" stroke="#777" stroke-width=".3"/>
    <ellipse cx="23.7" cy="38.8" rx="3" ry="1.1" fill="#111"/>
    <!-- lettering -->
    <text font-family="'Liberation Serif','Times New Roman',serif" font-weight="700" fill="#f5e521"><tspan x="7.6" y="9.6" font-size="9.8" stroke="#b8930f" stroke-width=".35" textLength="8.6" lengthAdjust="spacingAndGlyphs">H</tspan><tspan x="16.2" y="8" font-style="italic" font-size="5.4" stroke="#c9a514" stroke-width=".3" textLength="19.4" lengthAdjust="spacingAndGlyphs">OKEJ</tspan></text>
    <text x="24" y="45.7" text-anchor="middle" font-family="'Liberation Serif','Times New Roman',serif" font-weight="700" font-size="3.3" fill="#1a1a1a" stroke="#1a1a1a" stroke-width=".12" textLength="41.6" lengthAdjust="spacingAndGlyphs">HOKEJ Uherský Ostroh</text>
   </svg><span class="abbr uho">UHO</span></div>
  <div class="td c-tm">2 min.</div>
  <div class="td c-name"><span class="cd nm">TOMÁŠ ANDRÝSEK</span></div>
  <div class="td c-pen w">krosček</div>
 </div>
 <div class="tr">
  <div class="td c-time">35:47</div>
  <div class="td c-team"><svg class="logo" width="48" height="48" viewBox="0 0 48 48" role="img" aria-label="Rytíři Slansko">
    <!-- yellow glow outline -->
    <g fill="#f0f23c" stroke="#f0f23c" stroke-width="2.4" stroke-linejoin="round" stroke-linecap="round">
     <path d="M13.2 6.4 Q28 2.2 42.8 6.2 L43.4 21.4 L46.2 20.6 L46.9 31.6 L42 33.2 L41.8 36.8 L28.5 43.6 L18 43.4 L17.6 40.2 L11.6 41.6 L10 31.8 L13.2 30.4 Z"/>
     <path d="M0.9 23.3 L3.3 20 L8.1 25.9 L13.6 25.4 L13.6 27.6 L5.8 28.6 Z"/>
    </g>
    <!-- shield body -->
    <path d="M13.2 6.4 Q28 2.2 42.8 6.2 L43.4 21.4 L46.2 20.6 L46.9 31.6 L42 33.2 L41.8 36.8 L28.5 43.6 L18 43.4 L17.6 40.2 L11.6 41.6 L10 31.8 L13.2 30.4 Z" fill="#13213d"/>
    <!-- sky -->
    <path d="M14.8 7.6 Q28 3.4 41.2 7.4 L41.6 22 L30 25 L15 26 Z" fill="#6aaedb"/>
    <path d="M25.6 5.8 Q34 4.8 41.2 7.4 L41.4 10.4 L25 10 Z" fill="#72b3dc"/>
    <path d="M24.6 6.2 L26.4 5.6 L25.8 9.6 L24.8 9.8Z" fill="#d7ecf5"/>
    <!-- plume -->
    <ellipse cx="20.8" cy="7.9" rx="4.2" ry="1.8" transform="rotate(-8 20.8 7.9)" fill="#d3df52"/>
    <!-- knight: dark silhouette -->
    <path d="M16.5 11.4 L18 9.8 L21 9.2 L24.6 9.6 L27.4 10.2 L40.3 10 L41 17 L41.4 22.2 L30 25.4 L16 26.6 L16.2 25 L18.2 22.6 L16.6 18 Z" fill="#15233f"/>
    <!-- helmet -->
    <path d="M16.7 11.6 L19 10 L21.6 10.3 L22 13 L20.6 15.6 L21.2 19 L19.7 22.2 L17.4 19.8 L16.6 16 Z" fill="#e6eaf0"/>
    <path d="M17 13 L19 12 L19.6 17.4 L18.6 20.4 L17.5 19.2 L16.9 16Z" fill="#98a4ba"/>
    <path d="M22 12.3 L23.2 11.6 L23.9 13.4 L22.7 14.2Z" fill="#eef2f6"/>
    <!-- upper plates -->
    <path d="M27.9 10.9 L39.5 10.6 L40 13.2 L38 16.6 L33.8 16.9 L31 14.7 L27.7 12.1Z" fill="#f3f5f8"/>
    <path d="M28 11.3 H39.6 V11.75 H28Z M31.1 10.7 H31.75 V16.4 H31.1Z M33.2 12.4 L38.8 12 L38.9 12.7 L33.4 13.1Z M34.6 14.4 L38.6 13.8 L38.4 14.6 L34.8 15.1Z" fill="#1b2945"/>
    <path d="M38.2 10.8 L39.6 10.8 L38.4 16.4 L37.2 16.4Z" fill="#8f9bb2"/>
    <path d="M25.2 10.6 L27.4 10.8 L30.2 13.6 L29 14.6 L26 12.4Z" fill="#e9edf2"/>
    <!-- diagonal arm -->
    <path d="M25.3 13.4 L27 15 L23 18.7 L22 17.1Z" fill="#d8dfe8"/>
    <path d="M23.2 19.1 L27.7 15.1 L30.7 17.4 L27.8 20.8 L24 21.1Z" fill="#f6f8fa"/>
    <path d="M18.7 21.8 L21 20.8 L22.4 23 L20.2 24.8 L18.4 24Z" fill="#cdd5e0"/>
    <path d="M19.4 22.4 L21.4 21.6 L21.7 22.1 L19.7 23Z M25 17.6 L28.6 14.6 L29 15 L25.4 18.1Z" fill="#1b2945"/>
    <!-- bluish shadow, right -->
    <path d="M33.4 17.6 L41 16.8 L41.4 22 L33 23Z" fill="#274569"/>
    <path d="M30.5 18.6 L33.6 17.4 L33 23 L28 23.6Z" fill="#1e3354"/>
    <!-- small highlights below -->
    <path d="M21.6 24.6 L26.6 23.8 L26.8 24.6 L21.8 25.4Z M22.6 26.2 L26 25.6 L26.2 26.3 L22.8 26.9Z" fill="#c9d6e4"/>
    <!-- stick -->
    <path d="M0.9 23.3 L3.3 20 L8.1 25.9 L13.6 25.4 L13.6 27.6 L5.8 28.6 Z" fill="#13213d"/>
    <path d="M2.3 22.4 L3 21.6 L4.4 23.2 L3.7 24Z" fill="#f0f23c" opacity=".7"/>
    <path d="M13.4 25.9 L24 23.4 L24.2 24 L13.6 26.6Z M29 22.2 L34 21 L34.2 21.6 L29.2 22.8Z" fill="#b9c441"/>
    <path d="M36 18.4 L44.6 16.4 L44.9 17.4 L36.3 19.4Z" fill="#1b2945"/>
    <path d="M37 19.2 L42 18 L42.1 18.5 L37.2 19.7Z" fill="#b9c441"/>
    <!-- dark mass under the knight -->
    <path d="M14.8 26.6 L24 25.8 L30 25 L42.8 21.6 L43 25 L15 33 Z" fill="#13213d"/>
    <!-- wordmark -->
    <g transform="skewY(-15.3)" font-family="'Liberation Sans',Arial,sans-serif" font-weight="700">
     <text x="12.3" y="42.9" font-size="10" fill="#fff" stroke="#fff" stroke-width=".15" textLength="33.4" lengthAdjust="spacingAndGlyphs">RYTÍŘI</text>
     <text x="19.2" y="46.3" font-size="4.6" fill="#ecef3e" stroke="#ecef3e" stroke-width=".4" textLength="22.4" lengthAdjust="spacingAndGlyphs">SLANSKO</text>
    </g>
   </svg><span class="abbr bla">BLA</span></div>
  <div class="td c-tm">2 min.</div>
  <div class="td c-name"><span class="cd nm">TOMÁŠ JÍLEK</span></div>
  <div class="td c-pen w2">hrubost</div>
 </div>
 <div class="tr">
  <div class="td c-time">35:47</div>
  <div class="td c-team"><svg class="logo" width="48" height="48" viewBox="0 0 48 48" role="img" aria-label="HOKEJ Uherský Ostroh">
    <rect x="0" y="0" width="48" height="48" fill="#fff"/>
    <!-- shield -->
    <path d="M12.3 8.6 H35.2 V23 Q35 30 23.7 35.8 Q12.4 30 12.3 23 Z" fill="#d8362a"/>
    <path d="M12.3 22.4 H35.2 V23 Q35 30 23.7 35.8 Q12.4 30 12.3 23 Z" fill="#b5ae3a" stroke="#7d7a24" stroke-width=".45"/>
    <!-- wall -->
    <path d="M12.3 21 L14.2 20.4 L16 22 L18 21.2 L20 22.6 H27.4 L29.4 21.2 L31.4 22 L33.2 20.4 L35.2 21 V23.4 Q23.7 26.6 12.3 23.4Z" fill="#f6f5ee"/>
    <path d="M14 22.6h1v1h-1z M17.4 23.2h1v1h-1z M21 23.8h1v1h-1z M25.4 23.8h1v1h-1z M29 23.2h1v1h-1z M32.4 22.6h1v1h-1z" fill="#3a3a2a"/>
    <!-- tower -->
    <path d="M20.2 15.4 H27.2 V24 H20.2Z" fill="#aeb23e"/>
    <path d="M21.6 10.2 H25.8 L27.9 15.6 H19.5Z" fill="#d9dbe0"/>
    <path d="M19.5 15.6 H27.9 V14.6 H19.9Z" fill="#f4f4f4"/>
    <path d="M21.6 17.6h1.2v1.2h-1.2z M24.6 17.6h1.2v1.2h-1.2z M23.2 20.2h1v2.8h-1z" fill="#2a2a1e"/>
    <path d="M26.2 9.6 L26.6 12 L25.6 10.4Z" fill="#2a2a1e"/>
    <!-- door -->
    <path d="M21.2 34 V29.6 Q23.8 25.8 26.4 29.6 V34 L23.8 35.6Z" fill="#c4342a"/>
    <path d="M21.8 29.4 L25.8 34.4 M25.8 29.4 L21.8 34.4" stroke="#f7f2e6" stroke-width=".9" fill="none"/>
    <!-- sticks + puck -->
    <path d="M11.6 36.4 H19 L20.4 37.4 L19 38.6 H11.6Z M35.8 36.4 H28.4 L27 37.4 L28.4 38.6 H35.8Z" fill="#111"/>
    <path d="M11.4 36.2 H14 V38.8 H11.4Z M33.4 36.2 H36 V38.8 H33.4Z" fill="#f3f3c8"/>
    <path d="M20.6 38 Q20.8 34.6 23.7 34.6 Q26.6 34.6 26.8 38Z" fill="#f1f1f1" stroke="#777" stroke-width=".3"/>
    <ellipse cx="23.7" cy="38.8" rx="3" ry="1.1" fill="#111"/>
    <!-- lettering -->
    <text font-family="'Liberation Serif','Times New Roman',serif" font-weight="700" fill="#f5e521"><tspan x="7.6" y="9.6" font-size="9.8" stroke="#b8930f" stroke-width=".35" textLength="8.6" lengthAdjust="spacingAndGlyphs">H</tspan><tspan x="16.2" y="8" font-style="italic" font-size="5.4" stroke="#c9a514" stroke-width=".3" textLength="19.4" lengthAdjust="spacingAndGlyphs">OKEJ</tspan></text>
    <text x="24" y="45.7" text-anchor="middle" font-family="'Liberation Serif','Times New Roman',serif" font-weight="700" font-size="3.3" fill="#1a1a1a" stroke="#1a1a1a" stroke-width=".12" textLength="41.6" lengthAdjust="spacingAndGlyphs">HOKEJ Uherský Ostroh</text>
   </svg><span class="abbr uho">UHO</span></div>
  <div class="td c-tm">2 min.</div>
  <div class="td c-name"><span class="cd nm">ROBIN TISCHER</span></div>
  <div class="td c-pen w2">hrubost</div>
 </div>
 <div class="tr">
  <div class="td c-time">37:40</div>
  <div class="td c-team"><svg class="logo" width="48" height="48" viewBox="0 0 48 48" role="img" aria-label="Rytíři Slansko">
    <!-- yellow glow outline -->
    <g fill="#f0f23c" stroke="#f0f23c" stroke-width="2.4" stroke-linejoin="round" stroke-linecap="round">
     <path d="M13.2 6.4 Q28 2.2 42.8 6.2 L43.4 21.4 L46.2 20.6 L46.9 31.6 L42 33.2 L41.8 36.8 L28.5 43.6 L18 43.4 L17.6 40.2 L11.6 41.6 L10 31.8 L13.2 30.4 Z"/>
     <path d="M0.9 23.3 L3.3 20 L8.1 25.9 L13.6 25.4 L13.6 27.6 L5.8 28.6 Z"/>
    </g>
    <!-- shield body -->
    <path d="M13.2 6.4 Q28 2.2 42.8 6.2 L43.4 21.4 L46.2 20.6 L46.9 31.6 L42 33.2 L41.8 36.8 L28.5 43.6 L18 43.4 L17.6 40.2 L11.6 41.6 L10 31.8 L13.2 30.4 Z" fill="#13213d"/>
    <!-- sky -->
    <path d="M14.8 7.6 Q28 3.4 41.2 7.4 L41.6 22 L30 25 L15 26 Z" fill="#6aaedb"/>
    <path d="M25.6 5.8 Q34 4.8 41.2 7.4 L41.4 10.4 L25 10 Z" fill="#72b3dc"/>
    <path d="M24.6 6.2 L26.4 5.6 L25.8 9.6 L24.8 9.8Z" fill="#d7ecf5"/>
    <!-- plume -->
    <ellipse cx="20.8" cy="7.9" rx="4.2" ry="1.8" transform="rotate(-8 20.8 7.9)" fill="#d3df52"/>
    <!-- knight: dark silhouette -->
    <path d="M16.5 11.4 L18 9.8 L21 9.2 L24.6 9.6 L27.4 10.2 L40.3 10 L41 17 L41.4 22.2 L30 25.4 L16 26.6 L16.2 25 L18.2 22.6 L16.6 18 Z" fill="#15233f"/>
    <!-- helmet -->
    <path d="M16.7 11.6 L19 10 L21.6 10.3 L22 13 L20.6 15.6 L21.2 19 L19.7 22.2 L17.4 19.8 L16.6 16 Z" fill="#e6eaf0"/>
    <path d="M17 13 L19 12 L19.6 17.4 L18.6 20.4 L17.5 19.2 L16.9 16Z" fill="#98a4ba"/>
    <path d="M22 12.3 L23.2 11.6 L23.9 13.4 L22.7 14.2Z" fill="#eef2f6"/>
    <!-- upper plates -->
    <path d="M27.9 10.9 L39.5 10.6 L40 13.2 L38 16.6 L33.8 16.9 L31 14.7 L27.7 12.1Z" fill="#f3f5f8"/>
    <path d="M28 11.3 H39.6 V11.75 H28Z M31.1 10.7 H31.75 V16.4 H31.1Z M33.2 12.4 L38.8 12 L38.9 12.7 L33.4 13.1Z M34.6 14.4 L38.6 13.8 L38.4 14.6 L34.8 15.1Z" fill="#1b2945"/>
    <path d="M38.2 10.8 L39.6 10.8 L38.4 16.4 L37.2 16.4Z" fill="#8f9bb2"/>
    <path d="M25.2 10.6 L27.4 10.8 L30.2 13.6 L29 14.6 L26 12.4Z" fill="#e9edf2"/>
    <!-- diagonal arm -->
    <path d="M25.3 13.4 L27 15 L23 18.7 L22 17.1Z" fill="#d8dfe8"/>
    <path d="M23.2 19.1 L27.7 15.1 L30.7 17.4 L27.8 20.8 L24 21.1Z" fill="#f6f8fa"/>
    <path d="M18.7 21.8 L21 20.8 L22.4 23 L20.2 24.8 L18.4 24Z" fill="#cdd5e0"/>
    <path d="M19.4 22.4 L21.4 21.6 L21.7 22.1 L19.7 23Z M25 17.6 L28.6 14.6 L29 15 L25.4 18.1Z" fill="#1b2945"/>
    <!-- bluish shadow, right -->
    <path d="M33.4 17.6 L41 16.8 L41.4 22 L33 23Z" fill="#274569"/>
    <path d="M30.5 18.6 L33.6 17.4 L33 23 L28 23.6Z" fill="#1e3354"/>
    <!-- small highlights below -->
    <path d="M21.6 24.6 L26.6 23.8 L26.8 24.6 L21.8 25.4Z M22.6 26.2 L26 25.6 L26.2 26.3 L22.8 26.9Z" fill="#c9d6e4"/>
    <!-- stick -->
    <path d="M0.9 23.3 L3.3 20 L8.1 25.9 L13.6 25.4 L13.6 27.6 L5.8 28.6 Z" fill="#13213d"/>
    <path d="M2.3 22.4 L3 21.6 L4.4 23.2 L3.7 24Z" fill="#f0f23c" opacity=".7"/>
    <path d="M13.4 25.9 L24 23.4 L24.2 24 L13.6 26.6Z M29 22.2 L34 21 L34.2 21.6 L29.2 22.8Z" fill="#b9c441"/>
    <path d="M36 18.4 L44.6 16.4 L44.9 17.4 L36.3 19.4Z" fill="#1b2945"/>
    <path d="M37 19.2 L42 18 L42.1 18.5 L37.2 19.7Z" fill="#b9c441"/>
    <!-- dark mass under the knight -->
    <path d="M14.8 26.6 L24 25.8 L30 25 L42.8 21.6 L43 25 L15 33 Z" fill="#13213d"/>
    <!-- wordmark -->
    <g transform="skewY(-15.3)" font-family="'Liberation Sans',Arial,sans-serif" font-weight="700">
     <text x="12.3" y="42.9" font-size="10" fill="#fff" stroke="#fff" stroke-width=".15" textLength="33.4" lengthAdjust="spacingAndGlyphs">RYTÍŘI</text>
     <text x="19.2" y="46.3" font-size="4.6" fill="#ecef3e" stroke="#ecef3e" stroke-width=".4" textLength="22.4" lengthAdjust="spacingAndGlyphs">SLANSKO</text>
    </g>
   </svg><span class="abbr bla">BLA</span></div>
  <div class="td c-tm">2 min.</div>
  <div class="td c-name"><span class="cd nm">ROMAN ČERNÝ</span></div>
  <div class="td c-pen">držení</div>
 </div>
</section>
</main>
</body>
</html>
